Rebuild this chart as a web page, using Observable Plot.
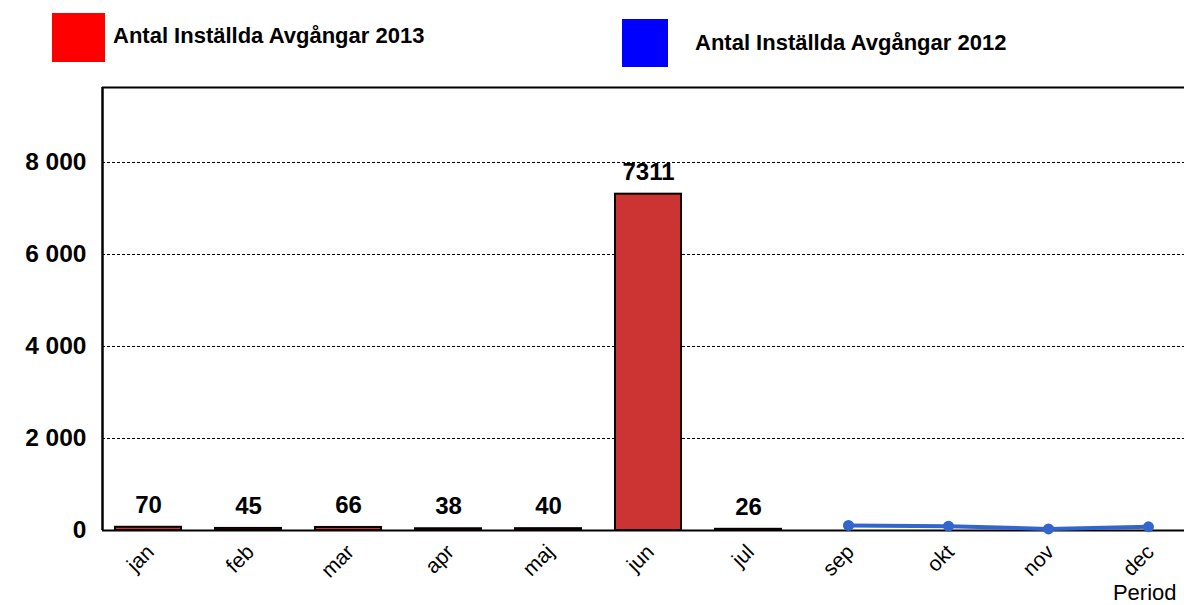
<!DOCTYPE html>
<html>
<head>
<meta charset="utf-8">
<script src="https://cdn.jsdelivr.net/npm/d3@7"></script>
<script src="https://cdn.jsdelivr.net/npm/@observablehq/plot@0.6"></script>
<style>
  body { margin: 0; background: #fff; font-family: "Liberation Sans", Arial, sans-serif; }
  #legend { position: relative; width: 1184px; height: 80px; }
  .sw { position: absolute; }
  .lt { position: absolute; font-weight: bold; font-size: 22px; line-height: 24px; color: #000; white-space: nowrap; }
  svg { display: block; }
</style>
</head>
<body>
<div id="legend">
  <div class="sw" style="left:52px;top:13px;width:53px;height:49px;background:#FF0000"></div>
  <div class="lt" style="left:113px;top:24px">Antal Inställda Avgångar 2013</div>
  <div class="sw" style="left:622px;top:19px;width:46px;height:48px;background:#0000FF"></div>
  <div class="lt" style="left:695px;top:31px">Antal Inställda Avgångar 2012</div>
</div>
<div id="chart"></div>
<script>
const months = ["jan","feb","mar","apr","maj","jun","jul","sep","okt","nov","dec"];
const months2013 = ["jan","feb","mar","apr","maj","jun","jul"];
const values2013 = [70, 45, 66, 38, 40, 7311, 26];
const months2012 = ["sep","okt","nov","dec"];
const values2012 = [110, 95, 35, 80];
const yTicks = [0, 2000, 4000, 6000, 8000];
const yMax = 9630;

const d2013 = months2013.map((m, i) => ({month: m, value: values2013[i]}));
const d2012 = months2012.map((m, i) => ({month: m, value: values2012[i]}));
const fmt = v => d3.format(",")(v).replace(/,/g, " ");

const chart = Plot.plot({
  width: 1184,
  height: 525,
  marginLeft: 102,
  marginRight: 0,
  marginTop: 7,
  marginBottom: 75,
  style: {fontFamily: "Liberation Sans, Arial, sans-serif", background: "#fff", overflow: "visible"},
  x: {domain: months, range: [115, 1181], paddingInner: 0.34, paddingOuter: 0},
  y: {domain: [0, yMax]},
  marks: [
    Plot.ruleY(yTicks.slice(1), {stroke: "#000", strokeDasharray: "3,2", strokeWidth: 1}),
    Plot.barY(d2013, {x: "month", y: "value", fill: "#CC3333", stroke: "#0a0000", strokeWidth: 2}),
    Plot.text(d2013, {x: "month", y: "value", text: d => String(d.value), dy: -22, fontSize: 24, fontWeight: "bold", fill: "#000"}),
    Plot.ruleY([0], {stroke: "#000", strokeWidth: 2}),
    Plot.ruleY([yMax], {stroke: "#000", strokeWidth: 2}),
    Plot.ruleX(["jan"], {y1: 0, y2: yMax, dx: -46, stroke: "#000", strokeWidth: 2.5}),
    Plot.line(d2012, {x: "month", y: "value", stroke: "#3366CC", strokeWidth: 4}),
    Plot.dot(d2012, {x: "month", y: "value", r: 5.5, fill: "#3366CC", stroke: "none"}),
    Plot.axisY({ticks: yTicks, tickFormat: fmt, tickSize: 0, tickPadding: 16, fontSize: 24.5, fontWeight: "bold", label: null}),
    Plot.axisX({tickSize: 0, tickRotate: -45, tickPadding: 18, fontSize: 21, label: null, dx: 2}),
    Plot.text(["Period"], {frameAnchor: "bottom-right", text: d => d, dx: -8, dy: 69, fontSize: 22, textAnchor: "end", fill: "#000"})
  ]
});
document.getElementById("chart").appendChild(chart);
</script>
</body>
</html>
